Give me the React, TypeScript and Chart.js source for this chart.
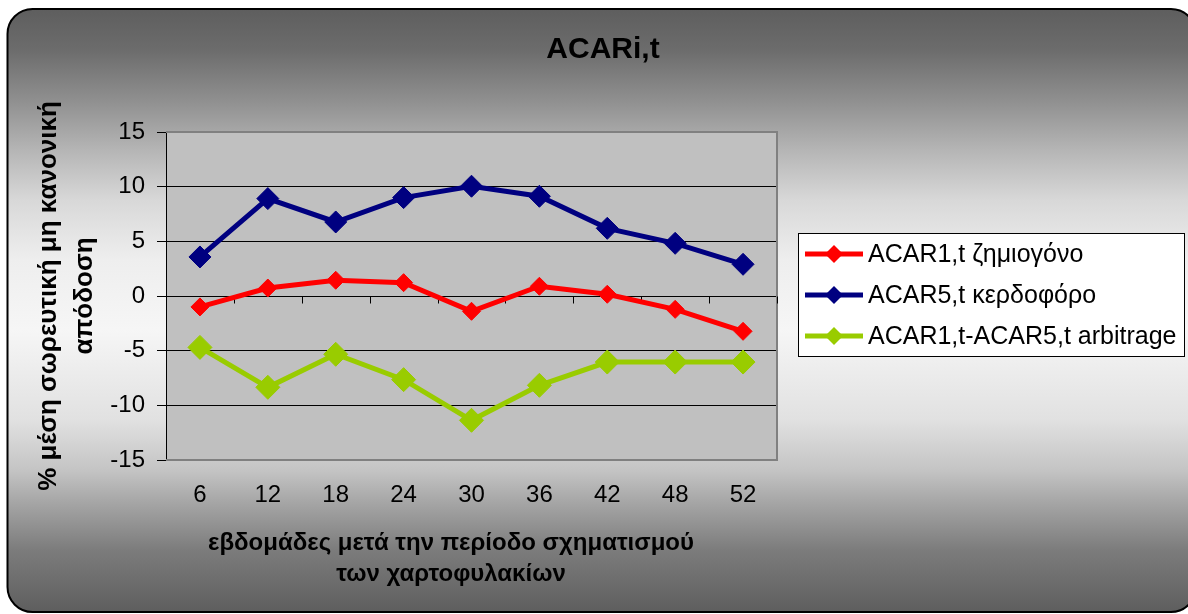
import { useEffect, useRef } from 'react';
import { Chart, registerables } from 'chart.js';

Chart.register(...registerables);

// Weeks after the portfolio formation period
const weeks = ['6', '12', '18', '24', '30', '36', '42', '48', '52'];

// Average cumulative abnormal returns (%)
const acarLoser = [-1.0, 0.73, 1.44, 1.22, -1.4, 0.89, 0.16, -1.22, -3.23];
const acarWinner = [3.57, 8.91, 6.77, 9.0, 10.04, 9.12, 6.19, 4.82, 2.9];
const acarArbitrage = [-4.7, -8.35, -5.33, -7.65, -11.37, -8.17, -6.04, -6.04, -6.04];

const seriesNames = ['ACAR1,t ζημιογόνο', 'ACAR5,t κερδοφόρο', 'ACAR1,t-ACAR5,t arbitrage'];
const seriesColors = ['#ff0000', '#000080', '#99cc00'];

const yMin = -15;
const yMax = 15;
const yStep = 5;

const chartTitle = 'ACARi,t';
const yTitleLines = ['% μέση σωρευτική μη κανονική', 'απόδοση'];
const xTitleLines = ['εβδομάδες μετά την περίοδο σχηματισμού', 'των χαρτοφυλακίων'];

const FONT = "'Liberation Sans', Arial, sans-serif";

// Gradient-filled rounded frame behind everything, plus the grey plot area
const framePlugin = {
  id: 'frame',
  beforeDraw(chart: any) {
    const ctx = chart.ctx as CanvasRenderingContext2D;
    const x0 = 7.5, y0 = 9, x1 = 1196, y1 = 612, r = 25;
    ctx.save();
    const g = ctx.createLinearGradient(0, y0, 0, y1);
    g.addColorStop(0, '#5e5e5e');
    g.addColorStop(0.068, '#6c6c6c');
    g.addColorStop(0.151, '#8f8f8f');
    g.addColorStop(0.234, '#b5b5b5');
    g.addColorStop(0.317, '#d8d8d8');
    g.addColorStop(0.416, '#eeeeee');
    g.addColorStop(0.532, '#f6f6f6');
    g.addColorStop(0.681, '#e1e1e1');
    g.addColorStop(0.765, '#c4c4c4');
    g.addColorStop(0.814, '#a8a8a8');
    g.addColorStop(0.897, '#7c7c7c');
    g.addColorStop(1, '#5e5e5e');
    ctx.beginPath();
    ctx.roundRect(x0, y0, x1 - x0, y1 - y0, r);
    ctx.fillStyle = g;
    ctx.fill();
    ctx.lineWidth = 2;
    ctx.strokeStyle = '#000000';
    ctx.stroke();

    const a = chart.chartArea;
    ctx.fillStyle = '#c0c0c0';
    ctx.fillRect(a.left, a.top, a.right - a.left, a.bottom - a.top);
    ctx.restore();
  },
  beforeDatasetsDraw(chart: any) {
    const ctx = chart.ctx as CanvasRenderingContext2D;
    const a = chart.chartArea;
    const xs = chart.scales.x;
    const ys = chart.scales.y;
    ctx.save();
    // plot-area border (top, right, bottom)
    ctx.strokeStyle = '#808080';
    ctx.lineWidth = 2;
    ctx.beginPath();
    ctx.moveTo(a.left, a.top);
    ctx.lineTo(a.right, a.top);
    ctx.lineTo(a.right, a.bottom);
    ctx.lineTo(a.left, a.bottom);
    ctx.stroke();
    // category tick marks sitting on the zero line
    const yZero = Math.round(ys.getPixelForValue(0)) + 0.5;
    ctx.strokeStyle = '#000000';
    ctx.lineWidth = 1;
    ctx.beginPath();
    for (let i = 0; i <= weeks.length; i++) {
      const px = Math.round(xs.getPixelForValue(i - 0.5)) + 0.5;
      ctx.moveTo(px, yZero);
      ctx.lineTo(px, yZero + 7);
    }
    ctx.stroke();
    ctx.restore();
  },
  afterDraw(chart: any) {
    const ctx = chart.ctx as CanvasRenderingContext2D;
    ctx.save();
    ctx.fillStyle = '#000000';

    // title
    ctx.font = `bold 30px ${FONT}`;
    ctx.textAlign = 'center';
    ctx.textBaseline = 'alphabetic';
    ctx.fillText(chartTitle, 603, 58);

    // x-axis title
    ctx.font = `bold 24px ${FONT}`;
    ctx.fillText(xTitleLines[0], 451, 550);
    ctx.fillText(xTitleLines[1], 451, 581);

    // y-axis title (rotated)
    ctx.save();
    ctx.font = `bold 26px ${FONT}`;
    ctx.translate(0, 296);
    ctx.rotate(-Math.PI / 2);
    ctx.textBaseline = 'alphabetic';
    ctx.fillText(yTitleLines[0], 0, 56);
    ctx.fillText(yTitleLines[1], 0, 92);
    ctx.restore();

    // legend
    const lx = 798.5, ly = 233.5, lw = 386, lh = 123;
    ctx.fillStyle = '#ffffff';
    ctx.fillRect(lx, ly, lw, lh);
    ctx.strokeStyle = '#000000';
    ctx.lineWidth = 1;
    ctx.strokeRect(lx, ly, lw, lh);
    ctx.font = `25px ${FONT}`;
    ctx.textAlign = 'left';
    ctx.textBaseline = 'middle';
    chart.data.datasets.forEach((ds: any, i: number) => {
      const cy = 254 + i * 41;
      ctx.strokeStyle = ds.borderColor;
      ctx.lineWidth = 5;
      ctx.beginPath();
      ctx.moveTo(805, cy);
      ctx.lineTo(863, cy);
      ctx.stroke();
      ctx.fillStyle = ds.borderColor;
      const rr = 9;
      ctx.beginPath();
      ctx.moveTo(834 - rr, cy);
      ctx.lineTo(834, cy - rr);
      ctx.lineTo(834 + rr, cy);
      ctx.lineTo(834, cy + rr);
      ctx.closePath();
      ctx.fill();
      ctx.fillStyle = '#000000';
      ctx.fillText(ds.label, 868, cy + 1);
    });
    ctx.restore();
  },
};

export default function App() {
  const ref = useRef<HTMLCanvasElement>(null);

  useEffect(() => {
    if (!ref.current) return;
    const values = [acarLoser, acarWinner, acarArbitrage];
    const radii = [9, 11, 12];
    const chart = new Chart(ref.current, {
      type: 'line',
      data: {
        labels: weeks,
        datasets: values.map((v, i) => ({
          label: seriesNames[i],
          data: v,
          borderColor: seriesColors[i],
          backgroundColor: seriesColors[i],
          pointBackgroundColor: seriesColors[i],
          pointBorderColor: seriesColors[i],
          borderWidth: 5,
          pointStyle: 'rectRot',
          pointRadius: radii[i],
          pointBorderWidth: 1,
          tension: 0,
          fill: false,
          clip: false,
        })),
      },
      options: {
        responsive: false,
        animation: false,
        devicePixelRatio: 1,
        layout: { padding: { left: 0, top: 132, right: 411, bottom: 0 } },
        plugins: {
          legend: { display: false },
          title: { display: false },
          tooltip: { enabled: false },
        },
        scales: {
          x: {
            type: 'category',
            offset: true,
            grid: { display: false, drawTicks: false, tickLength: 0 },
            border: { display: false },
            ticks: {
              color: '#000000',
              font: { family: FONT, size: 24 },
              padding: 21,
              maxRotation: 0,
              autoSkip: false,
            },
            afterFit: (scale: any) => {
              scale.height = 154;
            },
          },
          y: {
            min: yMin,
            max: yMax,
            grid: {
              color: (c: any) =>
                c.tick && (c.tick.value === yMin || c.tick.value === yMax) ? 'rgba(0,0,0,0)' : '#000000',
              tickColor: '#000000',
              tickLength: 9,
              lineWidth: 1,
            },
            border: { display: true, color: '#000000', width: 1 },
            ticks: {
              stepSize: yStep,
              color: '#000000',
              font: { family: FONT, size: 24 },
              padding: 12,
            },
            afterFit: (scale: any) => {
              scale.width = 166;
            },
          },
        },
      },
      plugins: [framePlugin],
    } as any);
    return () => chart.destroy();
  }, []);

  return (
    <div style={{ position: 'fixed', left: 0, top: 0, width: 1188, height: 614 }}>
      <canvas ref={ref} width={1188} height={614} style={{ display: 'block', width: 1188, height: 614 }} />
    </div>
  );
}
